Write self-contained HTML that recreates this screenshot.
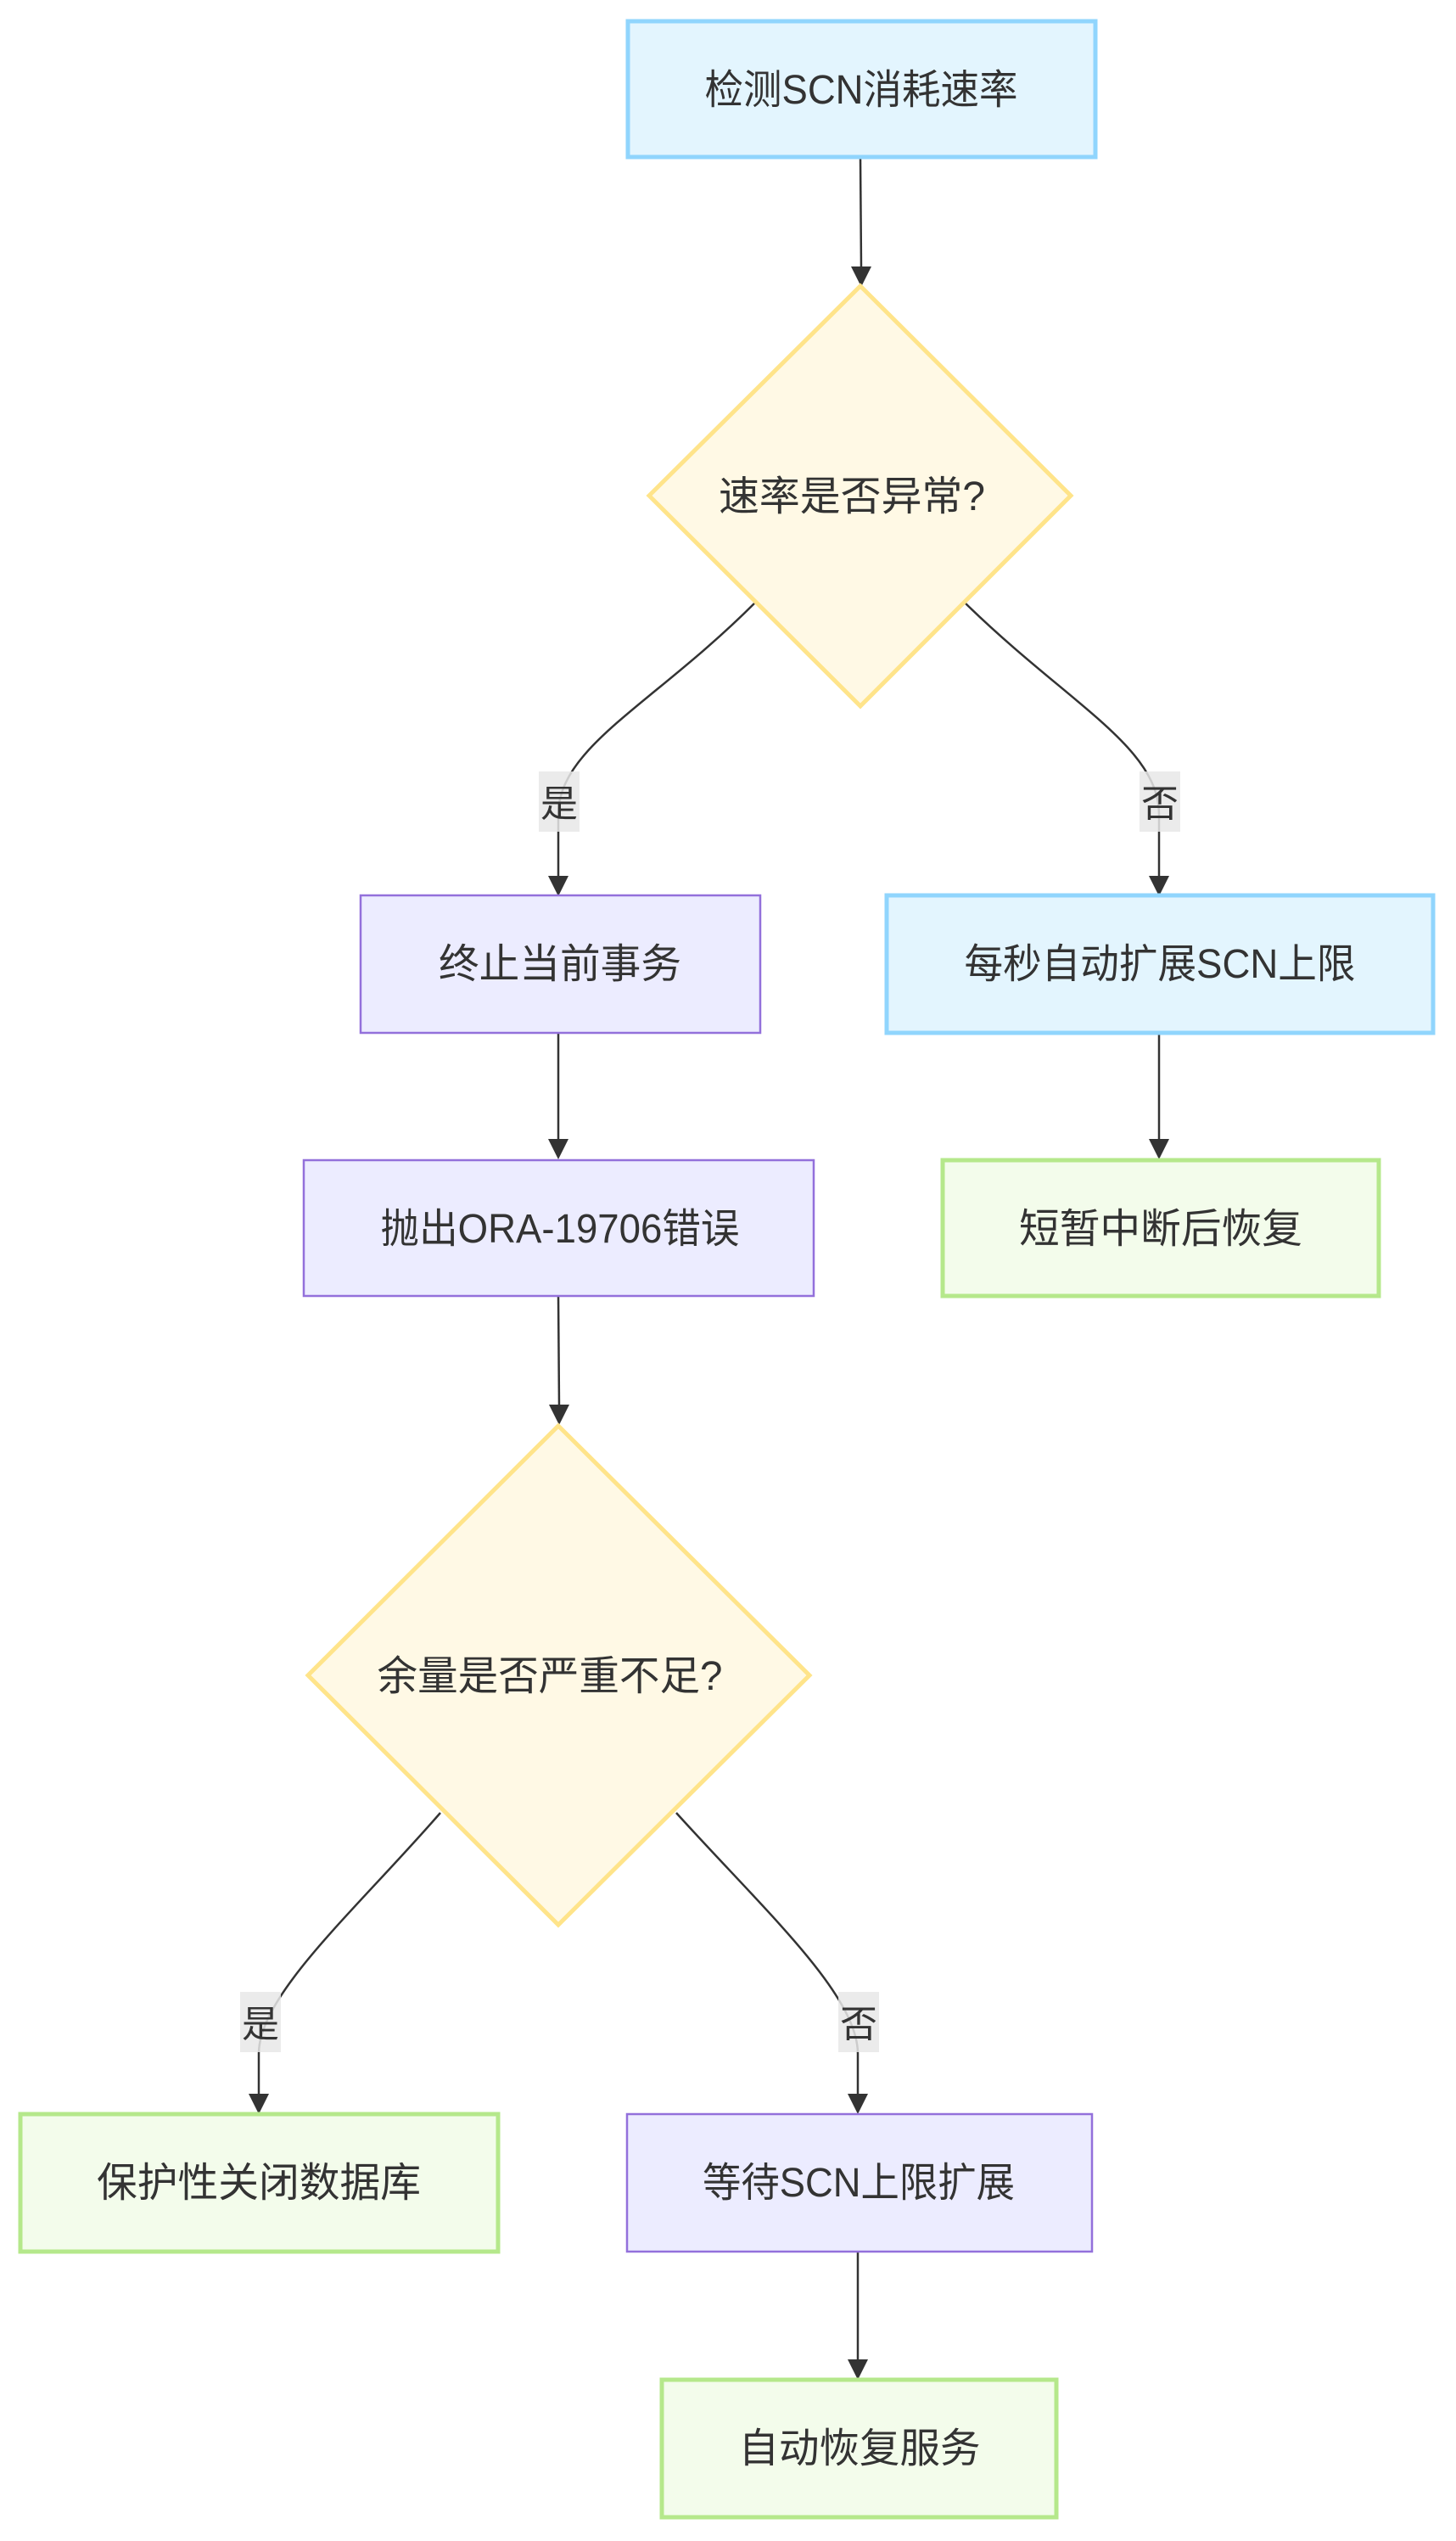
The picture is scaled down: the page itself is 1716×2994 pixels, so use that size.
<!DOCTYPE html>
<html><head><meta charset="utf-8"><style>
html,body{margin:0;padding:0;background:#fff;}
svg{display:block;}
text{font-family:"Liberation Sans","Noto Sans CJK SC",sans-serif;font-size:48px;fill:#333;}
</style></head><body>
<svg width="1716" height="2994" viewBox="0 0 1716 2994" xmlns="http://www.w3.org/2000/svg">
<defs>
<marker id="ah" markerWidth="12" markerHeight="12" refX="11" refY="6" orient="auto" markerUnits="userSpaceOnUse" viewBox="0 0 12 12">
</marker>
</defs>
<g fill="none" stroke="#333" stroke-width="2.5">
<path d="M1014,186 L1015,316"/>
<path d="M889,711 C770,830 658,880 658,960 L658,1035"/>
<path d="M1138,711 C1260,830 1366,880 1366,960 L1366,1035"/>
<path d="M658,1218 L658,1345"/>
<path d="M1366,1218 L1366,1345"/>
<path d="M658,1527 L659,1658"/>
<path d="M519,2136 C420,2250 305,2350 305,2420 L305,2470"/>
<path d="M797,2136 C900,2250 1011,2350 1011,2420 L1011,2470"/>
<path d="M1011,2653 L1011,2783"/>
</g>
<g fill="#333">
<path d="M1003,314 L1027,314 L1015,338 Z"/>
<path d="M646,1032 L670,1032 L658,1056 Z"/>
<path d="M1354,1032 L1378,1032 L1366,1056 Z"/>
<path d="M646,1342 L670,1342 L658,1366 Z"/>
<path d="M1354,1342 L1378,1342 L1366,1366 Z"/>
<path d="M647,1655 L671,1655 L659,1679 Z"/>
<path d="M293,2467 L317,2467 L305,2491 Z"/>
<path d="M999,2467 L1023,2467 L1011,2491 Z"/>
<path d="M999,2780 L1023,2780 L1011,2804 Z"/>
</g>
<!-- nodes -->
<rect x="740" y="25" width="551" height="160" fill="#E3F5FE" stroke="#90D5FD" stroke-width="5"/>
<text x="1015" y="122" text-anchor="middle" textLength="369" lengthAdjust="spacingAndGlyphs">检测SCN消耗速率</text>
<polygon points="1014,337 1262,584 1014,832 765,584" fill="#FFF9E5" stroke="#FFE48A" stroke-width="5"/>
<text x="1004" y="601" text-anchor="middle" textLength="314" lengthAdjust="spacingAndGlyphs">速率是否异常?</text>
<rect x="425" y="1055" width="471" height="162" fill="#ECECFF" stroke="#9370DB" stroke-width="2.5"/>
<text x="660" y="1152" text-anchor="middle" textLength="286" lengthAdjust="spacingAndGlyphs">终止当前事务</text>
<rect x="1045" y="1055" width="644" height="162" fill="#E3F5FE" stroke="#90D5FD" stroke-width="5"/>
<text x="1367" y="1152" text-anchor="middle" textLength="461" lengthAdjust="spacingAndGlyphs">每秒自动扩展SCN上限</text>
<rect x="358" y="1367" width="601" height="160" fill="#ECECFF" stroke="#9370DB" stroke-width="2.5"/>
<text x="660" y="1464" text-anchor="middle" textLength="423" lengthAdjust="spacingAndGlyphs">抛出ORA-19706错误</text>
<rect x="1111" y="1367" width="514" height="160" fill="#F3FCEB" stroke="#B5E88B" stroke-width="5"/>
<text x="1368" y="1464" text-anchor="middle" textLength="334" lengthAdjust="spacingAndGlyphs">短暂中断后恢复</text>
<polygon points="658,1680 954,1974 658,2268 363,1974" fill="#FFF9E5" stroke="#FFE48A" stroke-width="5"/>
<text x="648" y="1991" text-anchor="middle" textLength="407" lengthAdjust="spacingAndGlyphs">余量是否严重不足?</text>
<rect x="24" y="2491" width="563" height="162" fill="#F3FCEB" stroke="#B5E88B" stroke-width="5"/>
<text x="305" y="2588" text-anchor="middle" textLength="382" lengthAdjust="spacingAndGlyphs">保护性关闭数据库</text>
<rect x="739" y="2491" width="548" height="162" fill="#ECECFF" stroke="#9370DB" stroke-width="2.5"/>
<text x="1012" y="2588" text-anchor="middle" textLength="368" lengthAdjust="spacingAndGlyphs">等待SCN上限扩展</text>
<rect x="780" y="2804" width="465" height="162" fill="#F3FCEB" stroke="#B5E88B" stroke-width="5"/>
<text x="1013" y="2901" text-anchor="middle" textLength="285" lengthAdjust="spacingAndGlyphs">自动恢复服务</text>
<!-- labels -->
<rect x="635" y="909" width="48" height="71" fill="#e8e8e8" opacity="0.85"/>
<text x="659" y="962" text-anchor="middle" style="font-size:44px">是</text>
<rect x="1343" y="909" width="48" height="71" fill="#e8e8e8" opacity="0.85"/>
<text x="1367" y="962" text-anchor="middle" style="font-size:44px">否</text>
<rect x="283" y="2347" width="48" height="71" fill="#e8e8e8" opacity="0.85"/>
<text x="307" y="2400" text-anchor="middle" style="font-size:44px">是</text>
<rect x="988" y="2347" width="48" height="71" fill="#e8e8e8" opacity="0.85"/>
<text x="1012" y="2400" text-anchor="middle" style="font-size:44px">否</text>
</svg>
</body></html>
